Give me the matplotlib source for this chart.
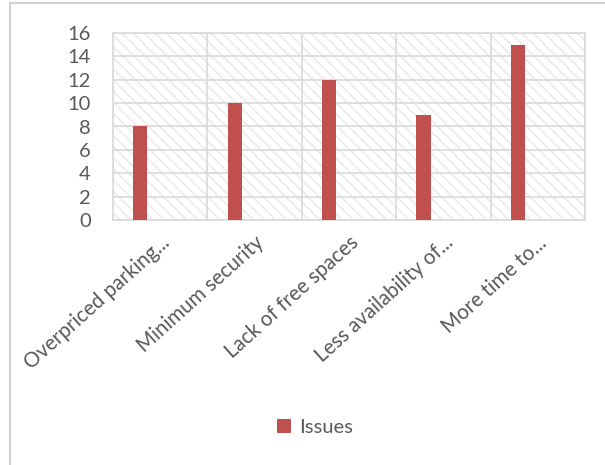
import matplotlib.pyplot as plt
from matplotlib.patches import Rectangle
from matplotlib.ticker import FixedLocator

# chart data
categories = ['Overpriced parking...', 'Minimum security', 'Lack of free spaces',
              'Less availability of...', 'More time to...']
issues = [8, 10, 12, 9, 15]
y_ticks = [0, 2, 4, 6, 8, 10, 12, 14, 16]

plt.rcParams['font.family'] = ['Lato', 'DejaVu Sans']
plt.rcParams['hatch.linewidth'] = 1.3

grey_text = '#595959'
grid_col = '#d9d9d9'
bar_col = '#C0504D'

fig = plt.figure(figsize=(6.05, 4.65), dpi=100)
ax = fig.add_axes([113 / 605, 1 - 220 / 465, 472 / 605, 187 / 465])

# hatched plot area background
ax.add_patch(Rectangle((0, 0), 1, 1, transform=ax.transAxes, facecolor='white',
                       edgecolor='#ececec', hatch='\\\\\\', lw=0, zorder=0))

x = range(len(categories))
ax.bar([i - 0.21 for i in x], issues, width=0.15, color=bar_col, label='Issues', zorder=3)

ax.set_xlim(-0.5, len(categories) - 0.5)
ax.set_ylim(0, 16)
ax.set_yticks(y_ticks)
ax.set_xticks(list(x))
ax.set_xticklabels(categories, rotation=42, ha='right', va='top', rotation_mode='anchor',
                   fontsize=14.8)
ax.xaxis.set_minor_locator(FixedLocator([i - 0.5 for i in range(len(categories) + 1)]))

ax.grid(axis='y', color=grid_col, lw=1.2, zorder=1)
ax.grid(axis='x', which='minor', color=grid_col, lw=1.2, zorder=1)
ax.tick_params(axis='both', which='both', length=0, colors=grey_text)
ax.tick_params(axis='y', pad=16, labelsize=14.5)
ax.tick_params(axis='x', pad=9)
for s in ax.spines.values():
    s.set_color(grid_col)
    s.set_linewidth(1.2)
ax.set_axisbelow(True)

fig.legend(loc='center', bbox_to_anchor=(0.52, 0.08), frameon=False, fontsize=14.5,
           labelcolor=grey_text, handlelength=0.7, handleheight=0.7, handletextpad=0.4)

# outer chart frame
fig.add_artist(Rectangle((10 / 605, -0.1), 1.2, 1 - 3 / 465 + 0.1, transform=fig.transFigure,
                         fill=False, edgecolor='#d0d0d0', lw=1.5))

fig.savefig('out.png', dpi=100)
